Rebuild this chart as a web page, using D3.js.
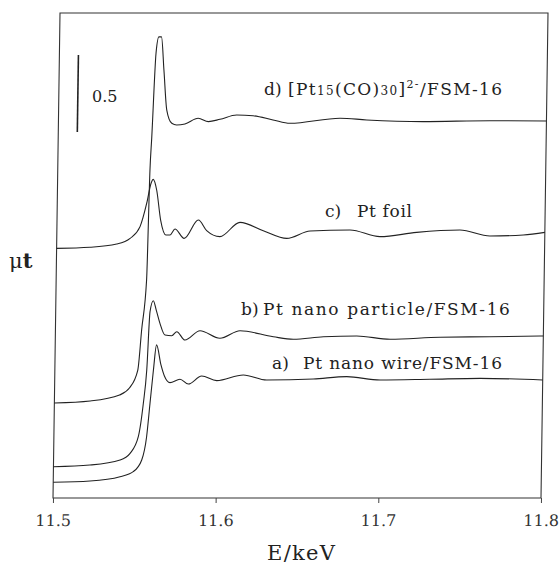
<!DOCTYPE html>
<html>
<head>
<meta charset="utf-8">
<script src="https://cdn.jsdelivr.net/npm/d3@7"></script>
<style>
  body { margin: 0; background: #fff; }
</style>
</head>
<body>
<div id="chart"></div>
<script>
// spectra values (E in keV, mu t in absorbance units, offsets included)
const energyD = [11.500, 11.522, 11.540, 11.546, 11.551, 11.553, 11.5556, 11.5567, 11.5575, 11.5594, 11.5610, 11.5626, 11.5644, 11.5665, 11.5697, 11.5727, 11.5778, 11.5859, 11.5922, 11.5993, 11.6095, 11.6196, 11.6319, 11.6424, 11.6731, 11.6895, 11.7241, 11.7653, 11.800];
const muD     = [0.617, 0.630, 0.669, 0.714, 0.831, 1.091, 1.416, 2.130, 2.338, 2.890, 2.994, 2.994, 2.779, 2.519, 2.433, 2.422, 2.429, 2.466, 2.444, 2.459, 2.487, 2.482, 2.455, 2.433, 2.466, 2.455, 2.444, 2.450, 2.448];

const energyC = [11.500, 11.5205, 11.5369, 11.5451, 11.5511, 11.5550, 11.5575, 11.5588, 11.5610, 11.5637, 11.5671, 11.5696, 11.5726, 11.5783, 11.5869, 11.5921, 11.6003, 11.6125, 11.6269, 11.6414, 11.6557, 11.6802, 11.6987, 11.7212, 11.7478, 11.7663, 11.7868, 11.800];
const muC     = [1.621, 1.628, 1.649, 1.686, 1.762, 1.914, 2.044, 2.069, 2.000, 1.805, 1.708, 1.708, 1.747, 1.686, 1.805, 1.736, 1.697, 1.790, 1.736, 1.686, 1.734, 1.740, 1.697, 1.725, 1.740, 1.701, 1.708, 1.725];

const energyB = [11.500, 11.5224, 11.5409, 11.5470, 11.5519, 11.5547, 11.5565, 11.5580, 11.5599, 11.5618, 11.5642, 11.5674, 11.5716, 11.5746, 11.5797, 11.5889, 11.6012, 11.6135, 11.6340, 11.6463, 11.6648, 11.6853, 11.7058, 11.7365, 11.7672, 11.800];
const muB     = [0.203, 0.214, 0.247, 0.290, 0.398, 0.615, 0.831, 1.210, 1.281, 1.220, 1.134, 1.058, 1.054, 1.080, 1.026, 1.086, 1.037, 1.086, 1.047, 1.031, 1.047, 1.052, 1.031, 1.044, 1.047, 1.052];

const energyA = [11.500, 11.5226, 11.5410, 11.5491, 11.5542, 11.5570, 11.5588, 11.5606, 11.5623, 11.5652, 11.5674, 11.5709, 11.5770, 11.5822, 11.5903, 11.5996, 11.6159, 11.6303, 11.6590, 11.6795, 11.7000, 11.7307, 11.7615, 11.800];
const muA     = [0.102, 0.110, 0.138, 0.171, 0.247, 0.398, 0.615, 0.831, 0.994, 0.864, 0.792, 0.749, 0.771, 0.740, 0.792, 0.762, 0.799, 0.766, 0.773, 0.788, 0.766, 0.771, 0.777, 0.766];

const xTicks = [11.5, 11.6, 11.7, 11.8];
const scaleBar = [2.377, 2.877]; // 0.5 units
const scaleBarE = 11.5117;

const width = 559, height = 566;
const plotLeft = 53, plotRight = 541, plotTop = 13, plotBottom = 498;
const serif = "DejaVu Serif";

const svg = d3.select("#chart").append("svg")
  .attr("width", width)
  .attr("height", height);

// the scanned figure is slightly sheared, so the plot sits in a skewed group
const plot = svg.append("g")
  .attr("transform", "translate(0," + plotBottom + ") skewX(-0.827) translate(0," + (-plotBottom) + ")");

const x = d3.scaleLinear().domain([11.5, 11.8]).range([plotLeft, plotRight]);
const y = d3.scaleLinear().domain([0, (plotBottom - plotTop) / 154]).range([plotBottom, plotTop]);

// frame
plot.append("rect")
  .attr("x", plotLeft).attr("y", plotTop)
  .attr("width", plotRight - plotLeft).attr("height", plotBottom - plotTop)
  .attr("fill", "none").attr("stroke", "#333").attr("stroke-width", 1.1);

// x axis
const xAxis = plot.append("g")
  .attr("transform", "translate(0," + plotBottom + ")")
  .call(d3.axisBottom(x).tickValues(xTicks).tickFormat(d3.format(".1f")).tickSize(5).tickPadding(12));
xAxis.attr("font-family", serif).attr("font-size", 16);
xAxis.select(".domain").remove();
xAxis.selectAll("line").attr("stroke", "#444");
xAxis.selectAll("text").attr("fill", "#333");

const line = d3.line()
  .x(d => x(d[0]))
  .y(d => y(d[1]))
  .curve(d3.curveMonotoneX);

const series = [
  [energyA, muA],
  [energyB, muB],
  [energyC, muC],
  [energyD, muD]
];
series.forEach(s => {
  plot.append("path")
    .datum(d3.zip(s[0], s[1]))
    .attr("d", line)
    .attr("fill", "none")
    .attr("stroke", "#222")
    .attr("stroke-width", 1.1);
});

// scale bar
plot.append("line")
  .attr("x1", x(scaleBarE)).attr("x2", x(scaleBarE))
  .attr("y1", y(scaleBar[0])).attr("y2", y(scaleBar[1]))
  .attr("stroke", "#222").attr("stroke-width", 1.6);

// make a text fill a given width by spreading its letters
function fit(t, w) {
  const n = t.text().length;
  const len = t.node().getComputedTextLength();
  t.attr("letter-spacing", ((w - len) / Math.max(n - 1, 1)).toFixed(2) + "px");
  return t;
}

function label(px, py, size, str) {
  return svg.append("text")
    .attr("x", px).attr("y", py)
    .attr("font-family", serif)
    .attr("font-size", size)
    .attr("fill", "#222")
    .text(str);
}

label(92, 102, 16, "0.5");

// series labels
const labels = [
  {tag: "c)", tx: 325, body: "Pt foil", bx: 357, w: 55, by: 217},
  {tag: "b)", tx: 241, body: "Pt nano particle/FSM-16", bx: 263, w: 247, by: 315},
  {tag: "a)", tx: 272, body: "Pt nano wire/FSM-16", bx: 303, w: 199, by: 369}
];
labels.forEach(l => {
  label(l.tx, l.by, 17, l.tag);
  fit(label(l.bx, l.by, 17, l.body), l.w);
});

label(264, 95, 17, "d)");
const dl = label(288, 95, 17, "");
dl.append("tspan").text("[Pt");
dl.append("tspan").attr("font-size", 12).text("15");
dl.append("tspan").text("(CO)");
dl.append("tspan").attr("font-size", 12).text("30");
dl.append("tspan").text("]");
dl.append("tspan").attr("font-size", 11).attr("dy", -7).text("2-");
dl.append("tspan").attr("dy", 7).text("/FSM-16");
fit(dl, 214);

// axis titles
fit(label(267, 560, 21, "E/keV"), 68);

const mt = label(9, 268, 21, "");
mt.append("tspan").text("μ");
mt.append("tspan").attr("font-weight", "bold").text("t");
</script>
</body>
</html>
